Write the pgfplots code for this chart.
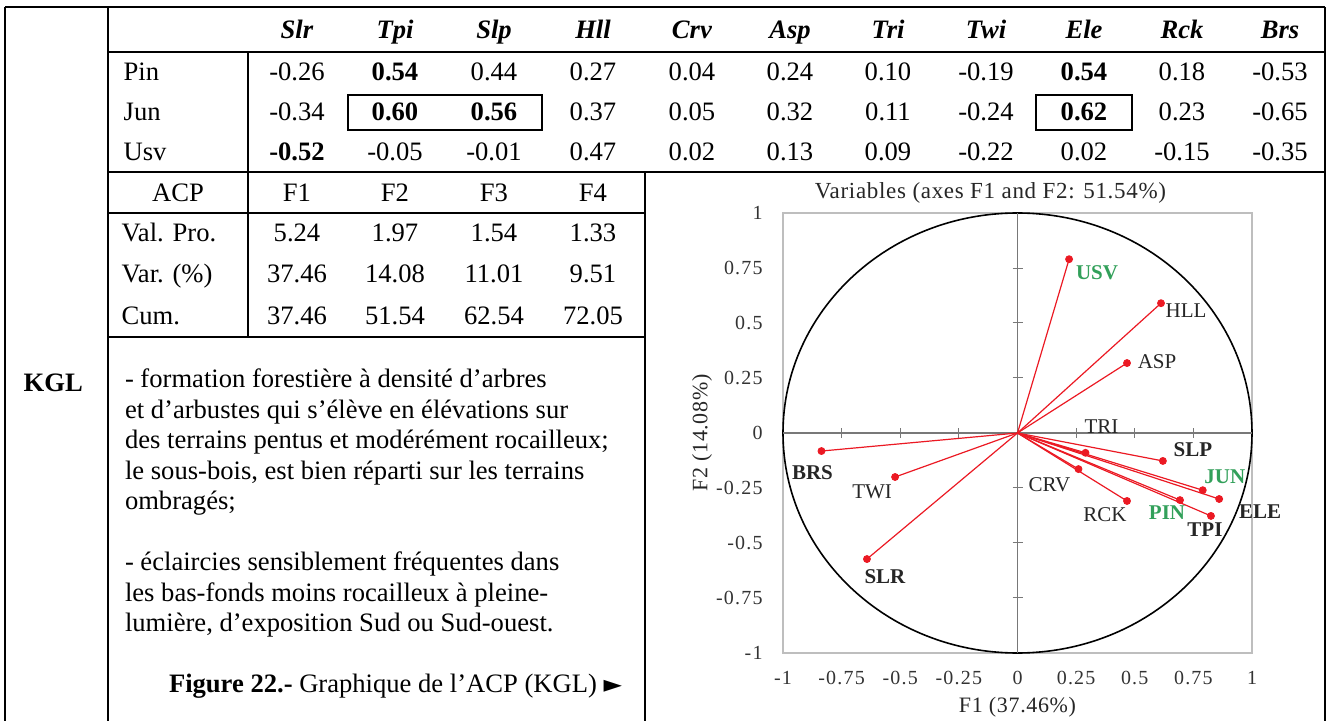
\documentclass[border=0pt]{standalone}
\usepackage{fontspec}
\setmainfont{Liberation Serif}
\newfontfamily\dejavu{DejaVu Sans}
\newfontfamily\chartfont[LetterSpace=6]{Liberation Serif}
\newfontfamily\titlefont[LetterSpace=3]{Liberation Serif}
\usepackage{pgfplots}
\usepackage{pgfplotstable}
\pgfplotsset{compat=1.18}
\definecolor{ptgreen}{RGB}{50,160,90}
\definecolor{boxgray}{RGB}{190,190,190}
\definecolor{axgray}{RGB}{120,120,120}
\definecolor{vecred}{RGB}{235,25,35}

% label offsets dx, dy in pt
\pgfplotstableread{
x y dx dy lab
0.612 0.590 12.5 -3.5 HLL
0.467 0.318 15 0.5 ASP
0.290 -0.090 8 13 TRI
0.467 -0.309 -11 -7 RCK
0.260 -0.164 -14.5 -8 CRV
-0.522 -0.200 -11.5 -7.5 TWI
}\blackreg
\pgfplotstableread{
x y dx dy lab
0.620 -0.127 15 5.5 SLP
0.860 -0.300 20.5 -6.5 ELE
0.825 -0.377 -3 -7 TPI
-0.836 -0.082 -4.5 -11 BRS
-0.642 -0.573 9 -9 SLR
}\blackbold
\pgfplotstableread{
x y dx dy lab
0.220 0.790 14 -7 USV
0.790 -0.260 11 6.5 JUN
0.693 -0.305 -6.5 -6.5 PIN
}\greenbold

\begin{document}
\begin{tikzpicture}[font=\fontsize{13.3}{16}\selectfont]
\useasboundingbox (0,0) rectangle (665pt,-360.5pt);
\begin{scope}[x=0.5pt,y=-0.5pt,line width=1pt]
% ---- table rules
\draw (5,7) -- (1325,7);
\draw (108,52) -- (1325,52);
\draw (108,172) -- (1325,172);
\draw (108,213) -- (645,213);
\draw (108,337) -- (645,337);
\draw (5,7) -- (5,721);
\draw (108,7) -- (108,721);
\draw (1325,7) -- (1325,721);
\draw (248,52) -- (248,337);
\draw (645,172) -- (645,721);
\draw (348,95) rectangle (542,130);
\draw (1036,95) rectangle (1132,130);
% ---- header
\foreach \c/\t in {297/Slr,395/Tpi,494/Slp,593/Hll,692/Crv,790/Asp,888/Tri,986/Twi,1084/Ele,1182/Rck,1280/Brs}
  \node[anchor=base] at (\c,38.5) {\textbf{\textit{\t}}};
% ---- rows
\node[anchor=base west] at (116,80.5) {Pin};
\node[anchor=base west] at (116,120.5) {Jun};
\node[anchor=base west] at (116,160.5) {Usv};
\foreach \c/\t in {297/-0.26,395/\textbf{0.54},494/0.44,593/0.27,692/0.04,790/0.24,888/0.10,986/-0.19,1084/\textbf{0.54},1182/0.18,1280/-0.53}
  \node[anchor=base] at (\c,80.5) {\t};
\foreach \c/\t in {297/-0.34,395/\textbf{0.60},494/\textbf{0.56},593/0.37,692/0.05,790/0.32,888/0.11,986/-0.24,1084/\textbf{0.62},1182/0.23,1280/-0.65}
  \node[anchor=base] at (\c,120.5) {\t};
\foreach \c/\t in {297/\textbf{-0.52},395/-0.05,494/-0.01,593/0.47,692/0.02,790/0.13,888/0.09,986/-0.22,1084/0.02,1182/-0.15,1280/-0.35}
  \node[anchor=base] at (\c,160.5) {\t};
% ---- ACP table
\node[anchor=base] at (178,201.5) {ACP};
\foreach \c/\t in {297/F1,395/F2,494/F3,593/F4}
  \node[anchor=base] at (\c,201.5) {\t};
\node[anchor=base west] at (114,241.5) {Val. Pro.};
\foreach \c/\t in {297/5.24,395/1.97,494/1.54,593/1.33}
  \node[anchor=base] at (\c,241.5) {\t};
\node[anchor=base west] at (114,283) {Var. (\%)};
\foreach \c/\t in {297/37.46,395/14.08,494/11.01,593/9.51}
  \node[anchor=base] at (\c,283) {\t};
\node[anchor=base west] at (114,324.5) {Cum.};
\foreach \c/\t in {297/37.46,395/51.54,494/62.54,593/72.05}
  \node[anchor=base] at (\c,324.5) {\t};
% ---- KGL
\node[anchor=base west] at (16,392) {\textbf{KGL}};
% ---- paragraph
\node[anchor=base west,inner sep=0pt] at (124,388) {- formation forestière à densité d’arbres};
\node[anchor=base west,inner sep=0pt] at (124,418.5) {et d'arbustes qui s’élève en élévations sur};
\node[anchor=base west,inner sep=0pt] at (124,449) {des terrains pentus et modérément rocailleux;};
\node[anchor=base west,inner sep=0pt] at (124,479.5) {le sous-bois, est bien réparti sur les terrains};
\node[anchor=base west,inner sep=0pt] at (124,510) {ombragés;};
\node[anchor=base west,inner sep=0pt] at (124,571) {- éclaircies sensiblement fréquentes dans};
\node[anchor=base west,inner sep=0pt] at (124,601.5) {les bas-fonds moins rocailleux à pleine-};
\node[anchor=base west,inner sep=0pt] at (124,632) {lumière, d’exposition Sud ou Sud-ouest.};
\node[anchor=base west,inner sep=0pt] at (168,693) {\textbf{Figure 22.-} Graphique de l’ACP (KGL) {\dejavu\fontsize{12}{14}\selectfont ►}};
\end{scope}

\begin{axis}[
  at={(391.5pt,-326.5pt)}, anchor=south west,
  scale only axis, width=234.5pt, height=220pt,
  xmin=-1, xmax=1, ymin=-1, ymax=1,
  clip=false,
  axis line style={boxgray, line width=0.6pt},
  major tick length=0pt,
  xtick={-1,-0.75,-0.5,-0.25,0,0.25,0.5,0.75,1},
  xticklabels={-1,-0.75,-0.5,-0.25,0,0.25,0.5,0.75,1},
  ytick={-1,-0.75,-0.5,-0.25,0,0.25,0.5,0.75,1},
  yticklabels={-1,-0.75,-0.5,-0.25,0,0.25,0.5,0.75,1},
  tick label style={font=\chartfont\fontsize{10}{12}\selectfont, text=black!80},
  xticklabel style={anchor=center, yshift=-12.5pt, inner sep=0pt},
  yticklabel style={anchor=east, xshift=-10pt, inner sep=0pt},
  title={Variables (axes F1 and F2: 51.54\%)},
  title style={at={([xshift=-13.5pt]axis description cs:0.5,1)}, anchor=center, yshift=4pt,
    font=\titlefont\fontsize{11.5}{13}\selectfont, text=black!85},
  xlabel={F1 (37.46\%)},
  xlabel style={at={([yshift=-27pt]axis description cs:0.5,0)}, anchor=center,
    font=\titlefont\fontsize{11}{13}\selectfont, text=black!85},
  ylabel={F2 (14.08\%)},
  ylabel style={at={([xshift=-40.5pt]axis description cs:0,0.5)}, anchor=center,
    font=\titlefont\fontsize{11}{13}\selectfont, text=black!85},
]
% correlation circle and centre axes
\draw[black, line width=0.8pt] (axis cs:0,0) ellipse [x radius=1, y radius=1];
\draw[axgray, line width=0.6pt] (axis cs:-1,0) -- (axis cs:1,0);
\draw[axgray, line width=0.6pt] (axis cs:0,-1) -- (axis cs:0,1);
\pgfplotsinvokeforeach{-0.75,-0.5,-0.25,0.25,0.5,0.75}{
  \draw[axgray, line width=0.5pt] ([xshift=-2.5pt]axis cs:0,#1) -- ([xshift=2.5pt]axis cs:0,#1);
  \draw[axgray, line width=0.5pt] ([yshift=-2.5pt]axis cs:#1,0) -- ([yshift=2.5pt]axis cs:#1,0);
}
% vectors
\addplot[vecred, line width=0.6pt] coordinates {(0,0) (0.220,0.790)};
\addplot[vecred, line width=0.6pt] coordinates {(0,0) (0.612,0.590)};
\addplot[vecred, line width=0.6pt] coordinates {(0,0) (0.467,0.318)};
\addplot[vecred, line width=0.6pt] coordinates {(0,0) (0.290,-0.090)};
\addplot[vecred, line width=0.6pt] coordinates {(0,0) (0.620,-0.127)};
\addplot[vecred, line width=0.6pt] coordinates {(0,0) (0.790,-0.260)};
\addplot[vecred, line width=0.6pt] coordinates {(0,0) (0.860,-0.300)};
\addplot[vecred, line width=0.6pt] coordinates {(0,0) (0.693,-0.305)};
\addplot[vecred, line width=0.6pt] coordinates {(0,0) (0.825,-0.377)};
\addplot[vecred, line width=0.6pt] coordinates {(0,0) (0.467,-0.309)};
\addplot[vecred, line width=0.6pt] coordinates {(0,0) (0.260,-0.164)};
\addplot[vecred, line width=0.6pt] coordinates {(0,0) (-0.836,-0.082)};
\addplot[vecred, line width=0.6pt] coordinates {(0,0) (-0.522,-0.200)};
\addplot[vecred, line width=0.6pt] coordinates {(0,0) (-0.642,-0.573)};
% points and labels
\addplot[only marks, mark=*, mark size=1.75pt, vecred,
  point meta=explicit symbolic, nodes near coords,
  visualization depends on={\thisrow{dx}\as\dx},
  visualization depends on={\thisrow{dy}\as\dy},
  every node near coord/.append style={anchor=center, xshift=\dx pt, yshift=\dy pt,
    text=black!85, font=\fontsize{10.5}{12}\selectfont}]
  table[x=x, y=y, meta=lab] {\blackreg};
\addplot[only marks, mark=*, mark size=1.75pt, vecred,
  point meta=explicit symbolic, nodes near coords,
  visualization depends on={\thisrow{dx}\as\dx},
  visualization depends on={\thisrow{dy}\as\dy},
  every node near coord/.append style={anchor=center, xshift=\dx pt, yshift=\dy pt,
    text=black!85, font=\fontsize{10.5}{12}\selectfont\bfseries}]
  table[x=x, y=y, meta=lab] {\blackbold};
\addplot[only marks, mark=*, mark size=1.75pt, vecred,
  point meta=explicit symbolic, nodes near coords,
  visualization depends on={\thisrow{dx}\as\dx},
  visualization depends on={\thisrow{dy}\as\dy},
  every node near coord/.append style={anchor=center, xshift=\dx pt, yshift=\dy pt,
    text=ptgreen, font=\fontsize{10.5}{12}\selectfont\bfseries}]
  table[x=x, y=y, meta=lab] {\greenbold};
\end{axis}
\end{tikzpicture}
\end{document}
